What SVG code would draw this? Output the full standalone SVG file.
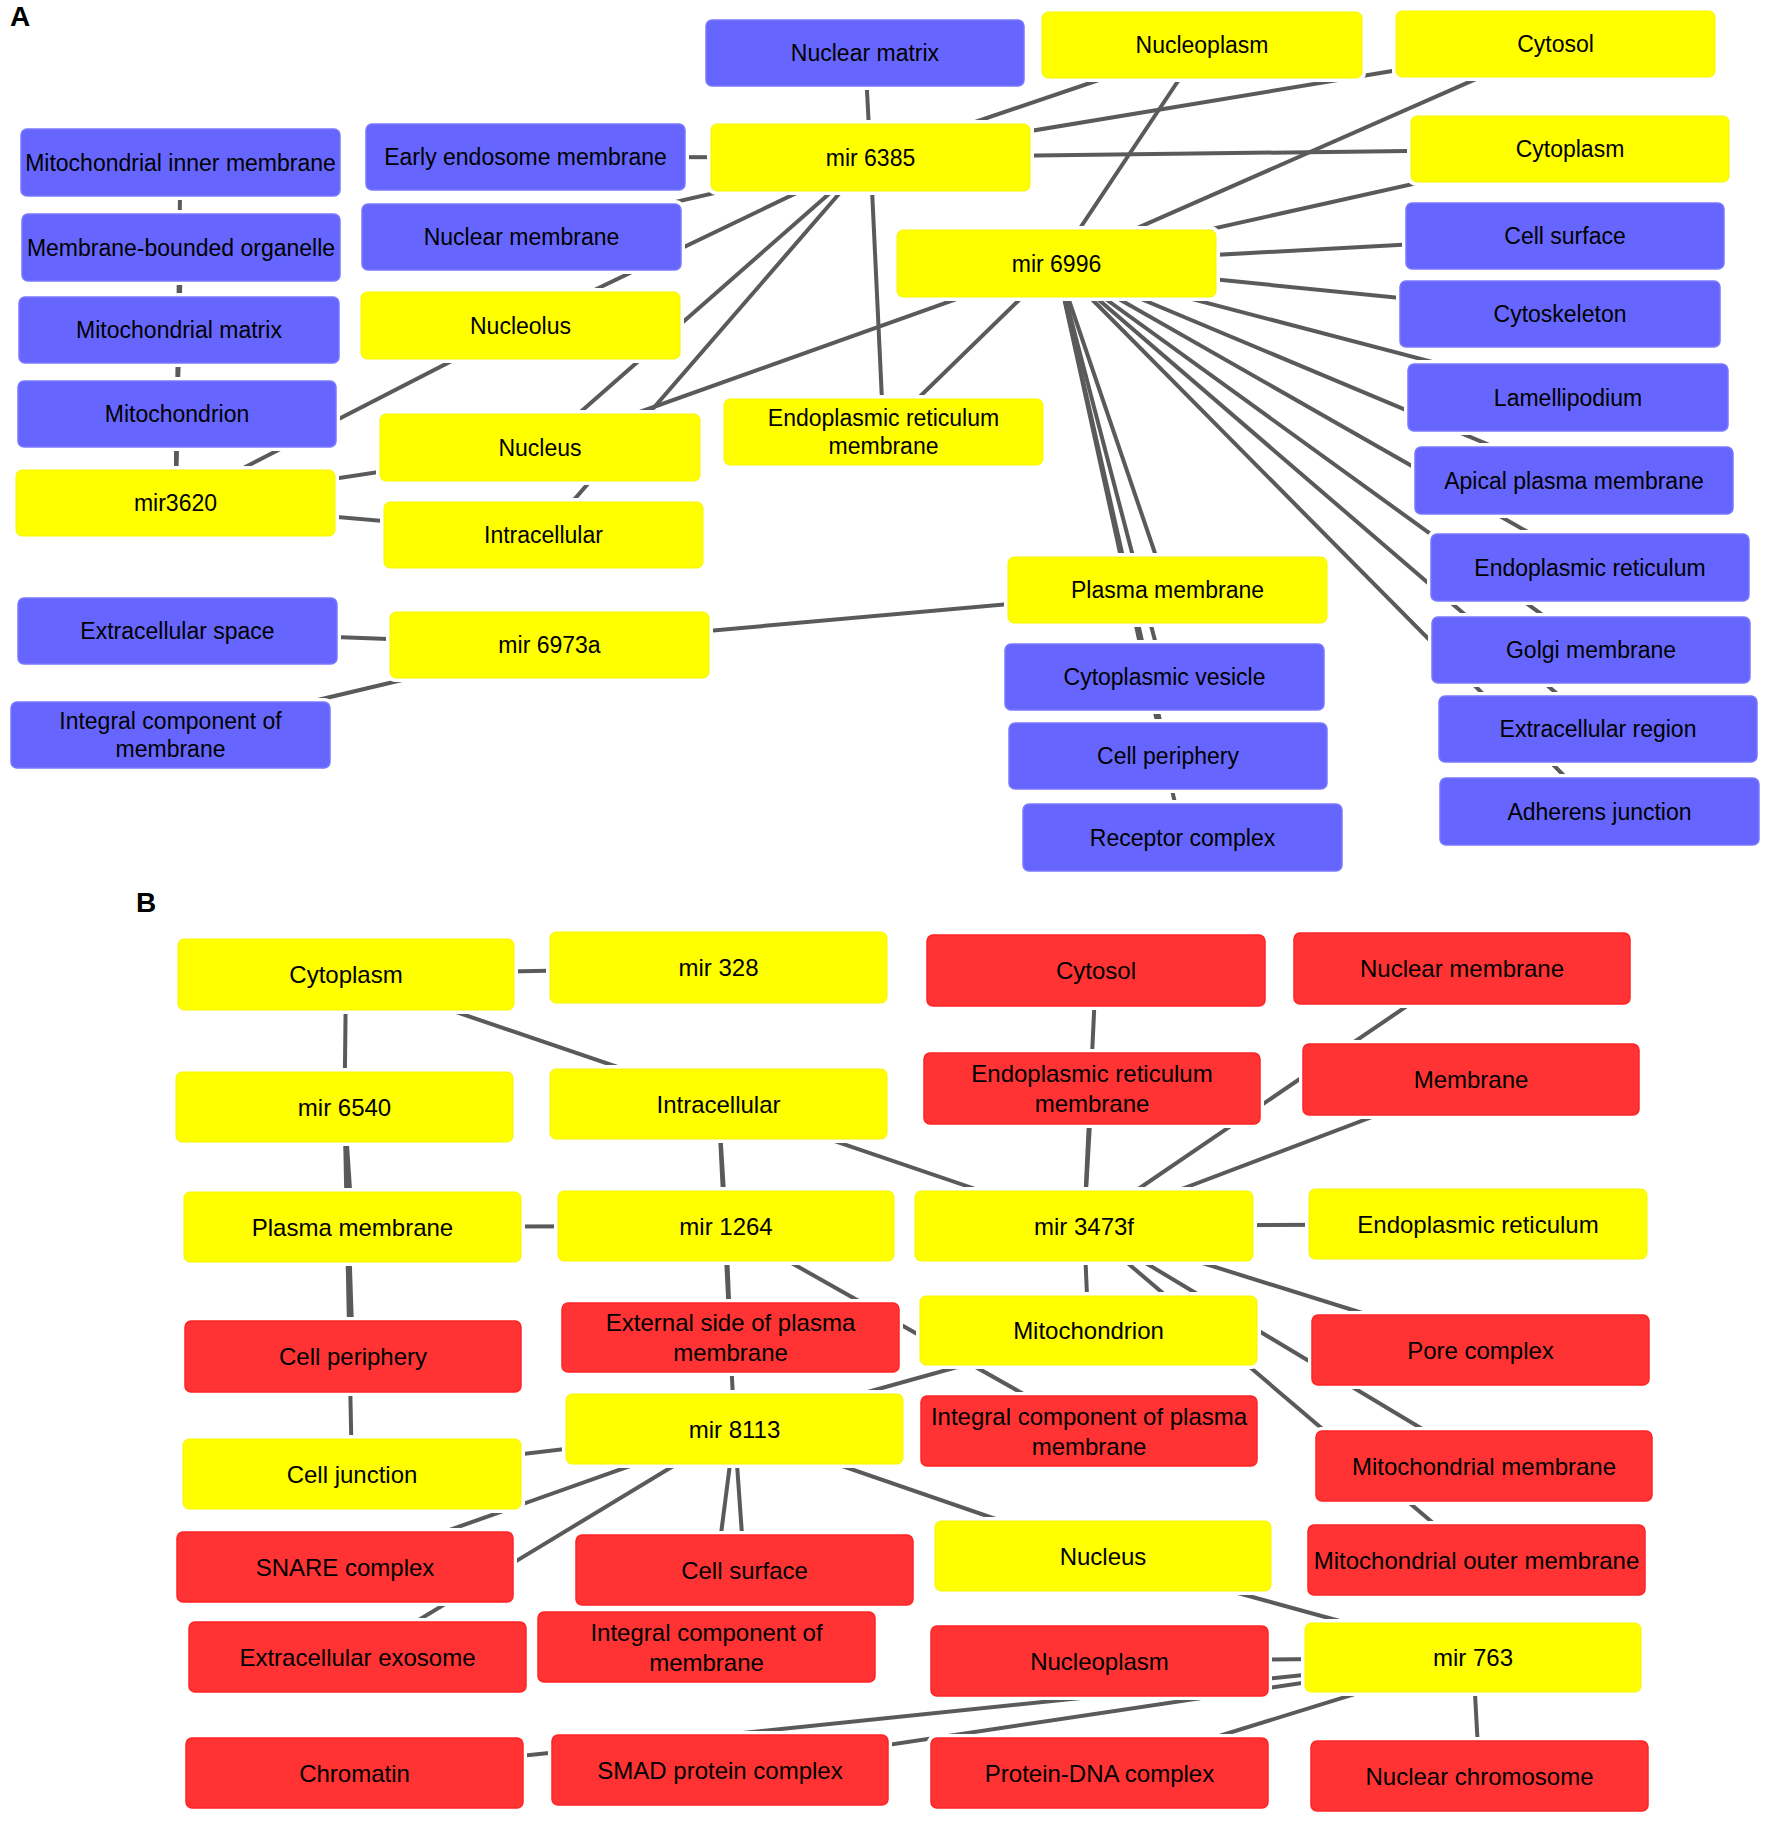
<svg xmlns="http://www.w3.org/2000/svg" width="1772" height="1827" viewBox="0 0 1772 1827">
<style>
.halo{fill:#ffffff}
.b{fill:#6666ff;stroke:#7878ff;stroke-width:1.5}
.y{fill:#ffff00;stroke:#f5f500;stroke-width:1}
.r{fill:#ff3333;stroke:#ff2424;stroke-width:1.5}
text{font-family:"Liberation Sans",Arial,sans-serif;fill:#000;text-anchor:middle}
.ta{font-size:23px}
.tb{font-size:24px}
.lbl{font-size:28px;font-weight:bold;text-anchor:start}
#edges line{stroke:#5a5a5a;stroke-width:4;stroke-linecap:butt}
</style>
<rect x="0" y="0" width="1772" height="1827" fill="#ffffff"/>
<text class="lbl" x="10" y="26">A</text>
<text class="lbl" x="136" y="912">B</text>
<g id="edges">
<line x1="175.5" y1="503" x2="180.5" y2="162.5"/>
<line x1="175.5" y1="503" x2="181" y2="247.5"/>
<line x1="175.5" y1="503" x2="179" y2="330"/>
<line x1="175.5" y1="503" x2="177" y2="414"/>
<line x1="175.5" y1="503" x2="520.5" y2="325.5"/>
<line x1="175.5" y1="503" x2="540" y2="447.5"/>
<line x1="175.5" y1="503" x2="543.5" y2="535"/>
<line x1="870.5" y1="157.5" x2="865" y2="53"/>
<line x1="870.5" y1="157.5" x2="525.5" y2="157"/>
<line x1="870.5" y1="157.5" x2="521.5" y2="237"/>
<line x1="870.5" y1="157.5" x2="520.5" y2="325.5"/>
<line x1="870.5" y1="157.5" x2="540" y2="447.5"/>
<line x1="870.5" y1="157.5" x2="543.5" y2="535"/>
<line x1="870.5" y1="157.5" x2="883.5" y2="432"/>
<line x1="870.5" y1="157.5" x2="1202" y2="45"/>
<line x1="870.5" y1="157.5" x2="1555.5" y2="44"/>
<line x1="870.5" y1="157.5" x2="1570" y2="149"/>
<line x1="1056.5" y1="263.5" x2="1202" y2="45"/>
<line x1="1056.5" y1="263.5" x2="1555.5" y2="44"/>
<line x1="1056.5" y1="263.5" x2="1570" y2="149"/>
<line x1="1056.5" y1="263.5" x2="1565" y2="236"/>
<line x1="1056.5" y1="263.5" x2="1560" y2="314"/>
<line x1="1056.5" y1="263.5" x2="1568" y2="397.5"/>
<line x1="1056.5" y1="263.5" x2="1574" y2="480.5"/>
<line x1="1056.5" y1="263.5" x2="1590" y2="567.5"/>
<line x1="1056.5" y1="263.5" x2="1591" y2="650"/>
<line x1="1056.5" y1="263.5" x2="1598" y2="729"/>
<line x1="1056.5" y1="263.5" x2="1599.5" y2="811.5"/>
<line x1="1056.5" y1="263.5" x2="1167.5" y2="590"/>
<line x1="1056.5" y1="263.5" x2="1164.5" y2="677"/>
<line x1="1056.5" y1="263.5" x2="1168" y2="756"/>
<line x1="1056.5" y1="263.5" x2="1182.5" y2="837.5"/>
<line x1="1056.5" y1="263.5" x2="883.5" y2="432"/>
<line x1="1056.5" y1="263.5" x2="540" y2="447.5"/>
<line x1="549.5" y1="645" x2="177.5" y2="631"/>
<line x1="549.5" y1="645" x2="170.5" y2="735"/>
<line x1="549.5" y1="645" x2="1167.5" y2="590"/>
<line x1="718.5" y1="967.5" x2="346" y2="974.5"/>
<line x1="344.5" y1="1107" x2="346" y2="974.5"/>
<line x1="344.5" y1="1107" x2="352.5" y2="1227"/>
<line x1="344.5" y1="1107" x2="353" y2="1356.5"/>
<line x1="344.5" y1="1107" x2="352" y2="1474"/>
<line x1="726" y1="1226" x2="352.5" y2="1227"/>
<line x1="726" y1="1226" x2="718.5" y2="1104"/>
<line x1="726" y1="1226" x2="730.5" y2="1337.5"/>
<line x1="726" y1="1226" x2="1089" y2="1431"/>
<line x1="1084" y1="1226" x2="346" y2="974.5"/>
<line x1="1084" y1="1226" x2="1096" y2="970.5"/>
<line x1="1084" y1="1226" x2="1092" y2="1088.5"/>
<line x1="1084" y1="1226" x2="1462" y2="968.5"/>
<line x1="1084" y1="1226" x2="1471" y2="1079.5"/>
<line x1="1084" y1="1226" x2="1478" y2="1224"/>
<line x1="1084" y1="1226" x2="1088.5" y2="1330.5"/>
<line x1="1084" y1="1226" x2="1480.5" y2="1350"/>
<line x1="1084" y1="1226" x2="1484" y2="1466"/>
<line x1="1084" y1="1226" x2="1476.5" y2="1560"/>
<line x1="734.5" y1="1429" x2="718.5" y2="1104"/>
<line x1="734.5" y1="1429" x2="1088.5" y2="1330.5"/>
<line x1="734.5" y1="1429" x2="352" y2="1474"/>
<line x1="734.5" y1="1429" x2="345" y2="1567"/>
<line x1="734.5" y1="1429" x2="357.5" y2="1657"/>
<line x1="734.5" y1="1429" x2="744.5" y2="1570"/>
<line x1="734.5" y1="1429" x2="706.5" y2="1647"/>
<line x1="734.5" y1="1429" x2="1103" y2="1556"/>
<line x1="1473" y1="1657.5" x2="1103" y2="1556"/>
<line x1="1473" y1="1657.5" x2="1099.5" y2="1661"/>
<line x1="1473" y1="1657.5" x2="354.5" y2="1773"/>
<line x1="1473" y1="1657.5" x2="720" y2="1770"/>
<line x1="1473" y1="1657.5" x2="1099.5" y2="1773"/>
<line x1="1473" y1="1657.5" x2="1479.5" y2="1776"/>
</g>
<g id="nA_nuclear_matrix"><rect class="halo" x="702" y="16" width="326" height="74" rx="9"/><rect class="b" x="706" y="20" width="318" height="66" rx="6"/><text class="ta" x="865" y="61">Nuclear matrix</text></g>
<g id="nA_nucleoplasm"><rect class="halo" x="1038" y="8" width="328" height="74" rx="9"/><rect class="y" x="1042" y="12" width="320" height="66" rx="6"/><text class="ta" x="1202" y="53">Nucleoplasm</text></g>
<g id="nA_cytosol"><rect class="halo" x="1392" y="7" width="327" height="74" rx="9"/><rect class="y" x="1396" y="11" width="319" height="66" rx="6"/><text class="ta" x="1555.5" y="52">Cytosol</text></g>
<g id="nA_mito_inner"><rect class="halo" x="17" y="125" width="327" height="75" rx="9"/><rect class="b" x="21" y="129" width="319" height="67" rx="6"/><text class="ta" x="180.5" y="170.5">Mitochondrial inner membrane</text></g>
<g id="nA_early_endosome"><rect class="halo" x="362" y="120" width="327" height="74" rx="9"/><rect class="b" x="366" y="124" width="319" height="66" rx="6"/><text class="ta" x="525.5" y="165">Early endosome membrane</text></g>
<g id="nA_mir6385"><rect class="halo" x="707" y="120" width="327" height="75" rx="9"/><rect class="y" x="711" y="124" width="319" height="67" rx="6"/><text class="ta" x="870.5" y="165.5">mir 6385</text></g>
<g id="nA_cytoplasm"><rect class="halo" x="1407" y="112" width="326" height="74" rx="9"/><rect class="y" x="1411" y="116" width="318" height="66" rx="6"/><text class="ta" x="1570" y="157">Cytoplasm</text></g>
<g id="nA_membrane_bounded"><rect class="halo" x="18" y="210" width="326" height="75" rx="9"/><rect class="b" x="22" y="214" width="318" height="67" rx="6"/><text class="ta" x="181" y="255.5">Membrane-bounded organelle</text></g>
<g id="nA_nuclear_membrane"><rect class="halo" x="358" y="200" width="327" height="74" rx="9"/><rect class="b" x="362" y="204" width="319" height="66" rx="6"/><text class="ta" x="521.5" y="245">Nuclear membrane</text></g>
<g id="nA_cell_surface"><rect class="halo" x="1402" y="199" width="326" height="74" rx="9"/><rect class="b" x="1406" y="203" width="318" height="66" rx="6"/><text class="ta" x="1565" y="244">Cell surface</text></g>
<g id="nA_mir6996"><rect class="halo" x="893" y="226" width="327" height="75" rx="9"/><rect class="y" x="897" y="230" width="319" height="67" rx="6"/><text class="ta" x="1056.5" y="271.5">mir 6996</text></g>
<g id="nA_nucleolus"><rect class="halo" x="357" y="288" width="327" height="75" rx="9"/><rect class="y" x="361" y="292" width="319" height="67" rx="6"/><text class="ta" x="520.5" y="333.5">Nucleolus</text></g>
<g id="nA_mito_matrix"><rect class="halo" x="15" y="293" width="328" height="74" rx="9"/><rect class="b" x="19" y="297" width="320" height="66" rx="6"/><text class="ta" x="179" y="338">Mitochondrial matrix</text></g>
<g id="nA_cytoskeleton"><rect class="halo" x="1396" y="277" width="328" height="74" rx="9"/><rect class="b" x="1400" y="281" width="320" height="66" rx="6"/><text class="ta" x="1560" y="322">Cytoskeleton</text></g>
<g id="nA_mitochondrion"><rect class="halo" x="14" y="377" width="326" height="74" rx="9"/><rect class="b" x="18" y="381" width="318" height="66" rx="6"/><text class="ta" x="177" y="422">Mitochondrion</text></g>
<g id="nA_lamellipodium"><rect class="halo" x="1404" y="360" width="328" height="75" rx="9"/><rect class="b" x="1408" y="364" width="320" height="67" rx="6"/><text class="ta" x="1568" y="405.5">Lamellipodium</text></g>
<g id="nA_nucleus"><rect class="halo" x="376" y="410" width="328" height="75" rx="9"/><rect class="y" x="380" y="414" width="320" height="67" rx="6"/><text class="ta" x="540" y="455.5">Nucleus</text></g>
<g id="nA_er_membrane"><rect class="halo" x="720" y="395" width="327" height="74" rx="9"/><rect class="y" x="724" y="399" width="319" height="66" rx="6"/><text class="ta" x="883.5" y="426">Endoplasmic reticulum</text><text class="ta" x="883.5" y="454">membrane</text></g>
<g id="nA_apical_pm"><rect class="halo" x="1411" y="443" width="326" height="75" rx="9"/><rect class="b" x="1415" y="447" width="318" height="67" rx="6"/><text class="ta" x="1574" y="488.5">Apical plasma membrane</text></g>
<g id="nA_mir3620"><rect class="halo" x="12" y="466" width="327" height="74" rx="9"/><rect class="y" x="16" y="470" width="319" height="66" rx="6"/><text class="ta" x="175.5" y="511">mir3620</text></g>
<g id="nA_intracellular"><rect class="halo" x="380" y="498" width="327" height="74" rx="9"/><rect class="y" x="384" y="502" width="319" height="66" rx="6"/><text class="ta" x="543.5" y="543">Intracellular</text></g>
<g id="nA_er"><rect class="halo" x="1427" y="530" width="326" height="75" rx="9"/><rect class="b" x="1431" y="534" width="318" height="67" rx="6"/><text class="ta" x="1590" y="575.5">Endoplasmic reticulum</text></g>
<g id="nA_plasma_membrane"><rect class="halo" x="1004" y="553" width="327" height="74" rx="9"/><rect class="y" x="1008" y="557" width="319" height="66" rx="6"/><text class="ta" x="1167.5" y="598">Plasma membrane</text></g>
<g id="nA_extracellular_space"><rect class="halo" x="14" y="594" width="327" height="74" rx="9"/><rect class="b" x="18" y="598" width="319" height="66" rx="6"/><text class="ta" x="177.5" y="639">Extracellular space</text></g>
<g id="nA_mir6973a"><rect class="halo" x="386" y="608" width="327" height="74" rx="9"/><rect class="y" x="390" y="612" width="319" height="66" rx="6"/><text class="ta" x="549.5" y="653">mir 6973a</text></g>
<g id="nA_golgi"><rect class="halo" x="1428" y="613" width="326" height="74" rx="9"/><rect class="b" x="1432" y="617" width="318" height="66" rx="6"/><text class="ta" x="1591" y="658">Golgi membrane</text></g>
<g id="nA_cyto_vesicle"><rect class="halo" x="1001" y="640" width="327" height="74" rx="9"/><rect class="b" x="1005" y="644" width="319" height="66" rx="6"/><text class="ta" x="1164.5" y="685">Cytoplasmic vesicle</text></g>
<g id="nA_integral_membrane"><rect class="halo" x="7" y="698" width="327" height="74" rx="9"/><rect class="b" x="11" y="702" width="319" height="66" rx="6"/><text class="ta" x="170.5" y="729">Integral component of</text><text class="ta" x="170.5" y="757">membrane</text></g>
<g id="nA_extracellular_region"><rect class="halo" x="1435" y="692" width="326" height="74" rx="9"/><rect class="b" x="1439" y="696" width="318" height="66" rx="6"/><text class="ta" x="1598" y="737">Extracellular region</text></g>
<g id="nA_cell_periphery"><rect class="halo" x="1005" y="719" width="326" height="74" rx="9"/><rect class="b" x="1009" y="723" width="318" height="66" rx="6"/><text class="ta" x="1168" y="764">Cell periphery</text></g>
<g id="nA_adherens"><rect class="halo" x="1436" y="774" width="327" height="75" rx="9"/><rect class="b" x="1440" y="778" width="319" height="67" rx="6"/><text class="ta" x="1599.5" y="819.5">Adherens junction</text></g>
<g id="nA_receptor_complex"><rect class="halo" x="1019" y="800" width="327" height="75" rx="9"/><rect class="b" x="1023" y="804" width="319" height="67" rx="6"/><text class="ta" x="1182.5" y="845.5">Receptor complex</text></g>
<g id="nB_cytoplasm"><rect class="halo" x="174" y="935" width="344" height="79" rx="9"/><rect class="y" x="178" y="939" width="336" height="71" rx="6"/><text class="tb" x="346" y="983">Cytoplasm</text></g>
<g id="nB_mir328"><rect class="halo" x="546" y="928" width="345" height="79" rx="9"/><rect class="y" x="550" y="932" width="337" height="71" rx="6"/><text class="tb" x="718.5" y="976">mir 328</text></g>
<g id="nB_cytosol"><rect class="halo" x="923" y="931" width="346" height="79" rx="9"/><rect class="r" x="927" y="935" width="338" height="71" rx="6"/><text class="tb" x="1096" y="979">Cytosol</text></g>
<g id="nB_nuclear_membrane"><rect class="halo" x="1290" y="929" width="344" height="79" rx="9"/><rect class="r" x="1294" y="933" width="336" height="71" rx="6"/><text class="tb" x="1462" y="977">Nuclear membrane</text></g>
<g id="nB_mir6540"><rect class="halo" x="172" y="1068" width="345" height="78" rx="9"/><rect class="y" x="176" y="1072" width="337" height="70" rx="6"/><text class="tb" x="344.5" y="1115.5">mir 6540</text></g>
<g id="nB_intracellular"><rect class="halo" x="546" y="1065" width="345" height="78" rx="9"/><rect class="y" x="550" y="1069" width="337" height="70" rx="6"/><text class="tb" x="718.5" y="1112.5">Intracellular</text></g>
<g id="nB_er_membrane"><rect class="halo" x="920" y="1049" width="344" height="79" rx="9"/><rect class="r" x="924" y="1053" width="336" height="71" rx="6"/><text class="tb" x="1092" y="1082">Endoplasmic reticulum</text><text class="tb" x="1092" y="1112">membrane</text></g>
<g id="nB_membrane"><rect class="halo" x="1299" y="1040" width="344" height="79" rx="9"/><rect class="r" x="1303" y="1044" width="336" height="71" rx="6"/><text class="tb" x="1471" y="1088">Membrane</text></g>
<g id="nB_plasma_membrane"><rect class="halo" x="180" y="1188" width="345" height="78" rx="9"/><rect class="y" x="184" y="1192" width="337" height="70" rx="6"/><text class="tb" x="352.5" y="1235.5">Plasma membrane</text></g>
<g id="nB_mir1264"><rect class="halo" x="554" y="1187" width="344" height="78" rx="9"/><rect class="y" x="558" y="1191" width="336" height="70" rx="6"/><text class="tb" x="726" y="1234.5">mir 1264</text></g>
<g id="nB_mir3473f"><rect class="halo" x="911" y="1187" width="346" height="78" rx="9"/><rect class="y" x="915" y="1191" width="338" height="70" rx="6"/><text class="tb" x="1084" y="1234.5">mir 3473f</text></g>
<g id="nB_er"><rect class="halo" x="1305" y="1185" width="346" height="78" rx="9"/><rect class="y" x="1309" y="1189" width="338" height="70" rx="6"/><text class="tb" x="1478" y="1232.5">Endoplasmic reticulum</text></g>
<g id="nB_cell_periphery"><rect class="halo" x="181" y="1317" width="344" height="79" rx="9"/><rect class="r" x="185" y="1321" width="336" height="71" rx="6"/><text class="tb" x="353" y="1365">Cell periphery</text></g>
<g id="nB_external_side"><rect class="halo" x="558" y="1299" width="345" height="77" rx="9"/><rect class="r" x="562" y="1303" width="337" height="69" rx="6"/><text class="tb" x="730.5" y="1331">External side of plasma</text><text class="tb" x="730.5" y="1361">membrane</text></g>
<g id="nB_mitochondrion"><rect class="halo" x="916" y="1292" width="345" height="77" rx="9"/><rect class="y" x="920" y="1296" width="337" height="69" rx="6"/><text class="tb" x="1088.5" y="1339">Mitochondrion</text></g>
<g id="nB_pore_complex"><rect class="halo" x="1308" y="1311" width="345" height="78" rx="9"/><rect class="r" x="1312" y="1315" width="337" height="70" rx="6"/><text class="tb" x="1480.5" y="1358.5">Pore complex</text></g>
<g id="nB_mir8113"><rect class="halo" x="562" y="1390" width="345" height="78" rx="9"/><rect class="y" x="566" y="1394" width="337" height="70" rx="6"/><text class="tb" x="734.5" y="1437.5">mir 8113</text></g>
<g id="nB_integral_pm"><rect class="halo" x="917" y="1392" width="344" height="78" rx="9"/><rect class="r" x="921" y="1396" width="336" height="70" rx="6"/><text class="tb" x="1089" y="1424.5">Integral component of plasma</text><text class="tb" x="1089" y="1454.5">membrane</text></g>
<g id="nB_cell_junction"><rect class="halo" x="179" y="1435" width="346" height="78" rx="9"/><rect class="y" x="183" y="1439" width="338" height="70" rx="6"/><text class="tb" x="352" y="1482.5">Cell junction</text></g>
<g id="nB_mito_membrane"><rect class="halo" x="1312" y="1427" width="344" height="78" rx="9"/><rect class="r" x="1316" y="1431" width="336" height="70" rx="6"/><text class="tb" x="1484" y="1474.5">Mitochondrial membrane</text></g>
<g id="nB_snare"><rect class="halo" x="173" y="1528" width="344" height="78" rx="9"/><rect class="r" x="177" y="1532" width="336" height="70" rx="6"/><text class="tb" x="345" y="1575.5">SNARE complex</text></g>
<g id="nB_cell_surface"><rect class="halo" x="572" y="1531" width="345" height="78" rx="9"/><rect class="r" x="576" y="1535" width="337" height="70" rx="6"/><text class="tb" x="744.5" y="1578.5">Cell surface</text></g>
<g id="nB_nucleus"><rect class="halo" x="931" y="1517" width="344" height="78" rx="9"/><rect class="y" x="935" y="1521" width="336" height="70" rx="6"/><text class="tb" x="1103" y="1564.5">Nucleus</text></g>
<g id="nB_mito_outer"><rect class="halo" x="1304" y="1521" width="345" height="78" rx="9"/><rect class="r" x="1308" y="1525" width="337" height="70" rx="6"/><text class="tb" x="1476.5" y="1568.5">Mitochondrial outer membrane</text></g>
<g id="nB_exosome"><rect class="halo" x="185" y="1618" width="345" height="78" rx="9"/><rect class="r" x="189" y="1622" width="337" height="70" rx="6"/><text class="tb" x="357.5" y="1665.5">Extracellular exosome</text></g>
<g id="nB_integral_membrane"><rect class="halo" x="534" y="1608" width="345" height="78" rx="9"/><rect class="r" x="538" y="1612" width="337" height="70" rx="6"/><text class="tb" x="706.5" y="1640.5">Integral component of</text><text class="tb" x="706.5" y="1670.5">membrane</text></g>
<g id="nB_nucleoplasm"><rect class="halo" x="927" y="1622" width="345" height="78" rx="9"/><rect class="r" x="931" y="1626" width="337" height="70" rx="6"/><text class="tb" x="1099.5" y="1669.5">Nucleoplasm</text></g>
<g id="nB_mir763"><rect class="halo" x="1301" y="1619" width="344" height="77" rx="9"/><rect class="y" x="1305" y="1623" width="336" height="69" rx="6"/><text class="tb" x="1473" y="1666">mir 763</text></g>
<g id="nB_chromatin"><rect class="halo" x="182" y="1734" width="345" height="78" rx="9"/><rect class="r" x="186" y="1738" width="337" height="70" rx="6"/><text class="tb" x="354.5" y="1781.5">Chromatin</text></g>
<g id="nB_smad"><rect class="halo" x="548" y="1731" width="344" height="78" rx="9"/><rect class="r" x="552" y="1735" width="336" height="70" rx="6"/><text class="tb" x="720" y="1778.5">SMAD protein complex</text></g>
<g id="nB_protein_dna"><rect class="halo" x="927" y="1734" width="345" height="78" rx="9"/><rect class="r" x="931" y="1738" width="337" height="70" rx="6"/><text class="tb" x="1099.5" y="1781.5">Protein-DNA complex</text></g>
<g id="nB_nuclear_chromosome"><rect class="halo" x="1307" y="1737" width="345" height="78" rx="9"/><rect class="r" x="1311" y="1741" width="337" height="70" rx="6"/><text class="tb" x="1479.5" y="1784.5">Nuclear chromosome</text></g>
</svg>
